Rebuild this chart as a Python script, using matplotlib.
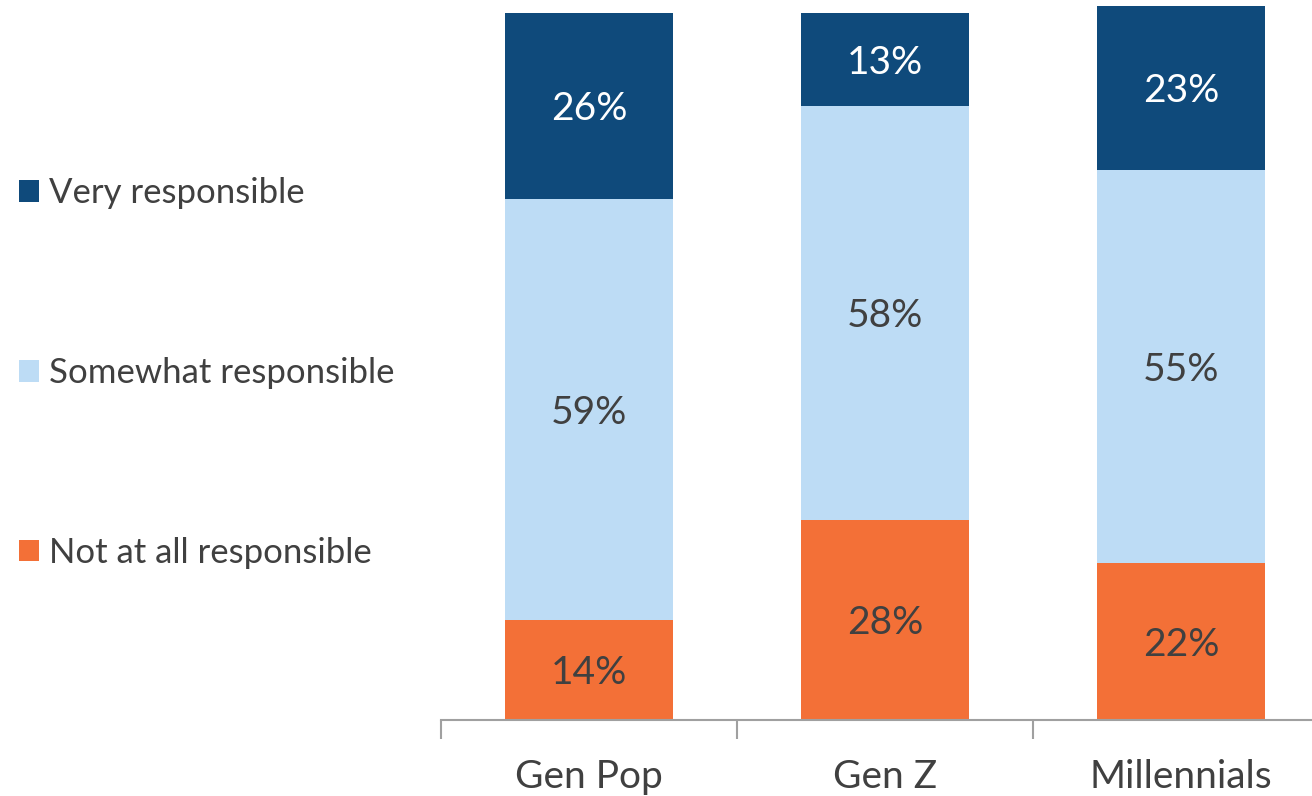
import matplotlib
matplotlib.use("Agg")
import matplotlib.pyplot as plt
from matplotlib.patches import Patch

categories = ["Gen Pop", "Gen Z", "Millennials"]
series_names = ["Not at all responsible", "Somewhat responsible", "Very responsible"]
not_at_all = [14, 28, 22]
somewhat = [59, 58, 55]
very = [26, 13, 23]

colors = ["#F37037", "#BDDCF5", "#0F4A7B"]
label_colors = ["#404040", "#404040", "#FFFFFF"]
text_gray = "#404040"

plt.rcParams['font.family'] = ['Lato', 'DejaVu Sans']

fig = plt.figure(figsize=(13.12, 7.96), dpi=100)
ax = fig.add_axes([441/1312, (796-720)/796, 888/1312, 720/796])

x = list(range(len(categories)))
bottom = [0]*len(categories)
series = [not_at_all, somewhat, very]
for vals, col, lc in zip(series, colors, label_colors):
    bars = ax.bar(x, vals, width=0.57, bottom=bottom, color=col)
    for xi, v, b in zip(x, vals, bottom):
        ax.text(xi, b + v/2, f"{v}%", ha="center", va="center_baseline", fontsize=28, color=lc)
    bottom = [b + v for b, v in zip(bottom, vals)]

ax.set_xlim(-0.5, 2.5)
ax.set_ylim(0, 100.8)
ax.set_yticks([])
for s in ["top", "right", "left"]:
    ax.spines[s].set_visible(False)
ax.spines["bottom"].set_color("#A0A0A0")
ax.spines["bottom"].set_linewidth(1.5)
ax.set_xticks([-0.5, 0.5, 1.5, 2.5])
ax.set_xticklabels([])
ax.set_xticks(x, minor=True)
ax.set_xticklabels(categories, minor=True, fontsize=28, color=text_gray)
ax.tick_params(axis="x", which="major", length=14, width=1.5, color="#A0A0A0", direction="out")
ax.tick_params(axis="x", which="minor", length=0, pad=28)

handles = [Patch(facecolor=c) for c in colors[::-1]]
fig.legend(handles, series_names[::-1], loc="upper left", bbox_to_anchor=(0.004, 0.795),
           frameon=False, fontsize=25, labelcolor=text_gray,
           handlelength=0.58, handleheight=0.58, handletextpad=0.29, labelspacing=4.26,
           borderaxespad=0)

fig.savefig("out.png", dpi=100)
